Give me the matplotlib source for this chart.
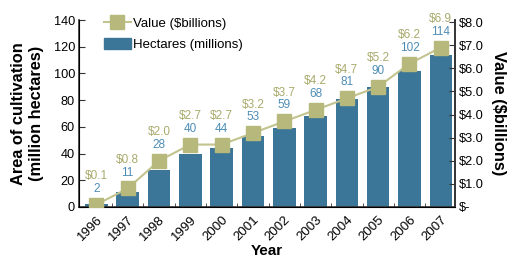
import matplotlib
matplotlib.use("Agg")
import matplotlib.pyplot as plt
from matplotlib.patches import Patch
from matplotlib.lines import Line2D

plt.rcParams['font.family'] = ['Liberation Sans', 'DejaVu Sans']

years = ['1996', '1997', '1998', '1999', '2000', '2001', '2002', '2003', '2004', '2005', '2006', '2007']
hectares = [2, 11, 28, 40, 44, 53, 59, 68, 81, 90, 102, 114]
value = [0.1, 0.8, 2.0, 2.7, 2.7, 3.2, 3.7, 4.2, 4.7, 5.2, 6.2, 6.9]
left_ticks = [0, 20, 40, 60, 80, 100, 120, 140]
right_ticks = [0, 1, 2, 3, 4, 5, 6, 7, 8]
right_labels = ['$-', '$1.0', '$2.0', '$3.0', '$4.0', '$5.0', '$6.0', '$7.0', '$8.0']

bar_c = '#3B7597'
gold = '#B6B87C'
gold_line = '#C2C38E'
blue_txt = '#4F8DB5'
gold_txt = '#A8AA6C'
axc = '#333333'

fig = plt.figure(figsize=(5.14, 2.60), dpi=100)
ax = fig.add_axes([0.154, 0.204, 0.731, 0.719])
x = list(range(len(years)))
ax.bar(x, hectares, width=0.72, color=bar_c, zorder=2)
ax.set_xlim(-0.55, 11.45)
ax.set_ylim(0, 140)
ax.set_yticks(left_ticks)
ax.set_xticks(x)
ax.set_xticklabels(years, rotation=45, ha='right', rotation_mode='anchor', fontsize=9.5)
ax.tick_params(axis='x', which='major', length=0, pad=5)
ax.set_xticks([i - 0.5 for i in x[1:]] + [11.45], minor=True)
ax.tick_params(axis='x', which='minor', direction='in', length=3, color=axc)
ax.tick_params(axis='y', direction='in', length=4, labelsize=9.2, color=axc, pad=3)
ax.spines['top'].set_visible(False)
for s in ['left', 'bottom', 'right']:
    ax.spines[s].set_color(axc)
    ax.spines[s].set_linewidth(1.2)
ax.set_ylabel('Area of cultivation\n(million hectares)', fontsize=11.8, fontweight='bold', linespacing=1.25)
ax.yaxis.set_label_coords(-0.093, 0.5)
ax.set_xlabel('Year', fontsize=11, fontweight='bold')
ax.xaxis.set_label_coords(0.5, -0.2)

ax2 = ax.twinx()
ax2.set_ylim(0, 8.09)
ax2.plot(x, value, color=gold_line, lw=1.5, marker='s', markersize=10.5,
         markerfacecolor=gold, markeredgecolor=gold, zorder=3)
ax2.set_yticks(right_ticks)
ax2.set_yticklabels(right_labels)
ax2.tick_params(axis='y', direction='in', length=4, labelsize=9.2, color=axc, pad=3)
ax2.spines['top'].set_visible(False)
ax2.spines['right'].set_color(axc)
ax2.spines['right'].set_linewidth(1.2)
ax2.set_ylabel('Value ($billions)', fontsize=11.8, fontweight='bold', rotation=270)
ax2.yaxis.set_label_coords(1.136, 0.5)

for i in x:
    ax2.annotate(str(hectares[i]), (i, value[i]), xytext=(0, 11.5), textcoords='offset points',
                 ha='center', va='center', color=blue_txt, fontsize=8.5)
    ax2.annotate('$%.1f' % value[i], (i, value[i]), xytext=(0, 20.5), textcoords='offset points',
                 ha='center', va='center', color=gold_txt, fontsize=8.5)

handles = [Line2D([0], [0], color=gold_line, lw=1.5, marker='s', markersize=10.5,
                  markerfacecolor=gold, markeredgecolor=gold),
           Patch(facecolor=bar_c, edgecolor=bar_c)]
leg = ax.legend(handles, ['Value ($billions)', 'Hectares (millions)'], loc='upper left',
                bbox_to_anchor=(0.035, 1.08), frameon=False, fontsize=9.5,
                handlelength=2.0, handleheight=0.9, handletextpad=0.2, labelspacing=0.6)

fig.savefig('out.png', dpi=100)
